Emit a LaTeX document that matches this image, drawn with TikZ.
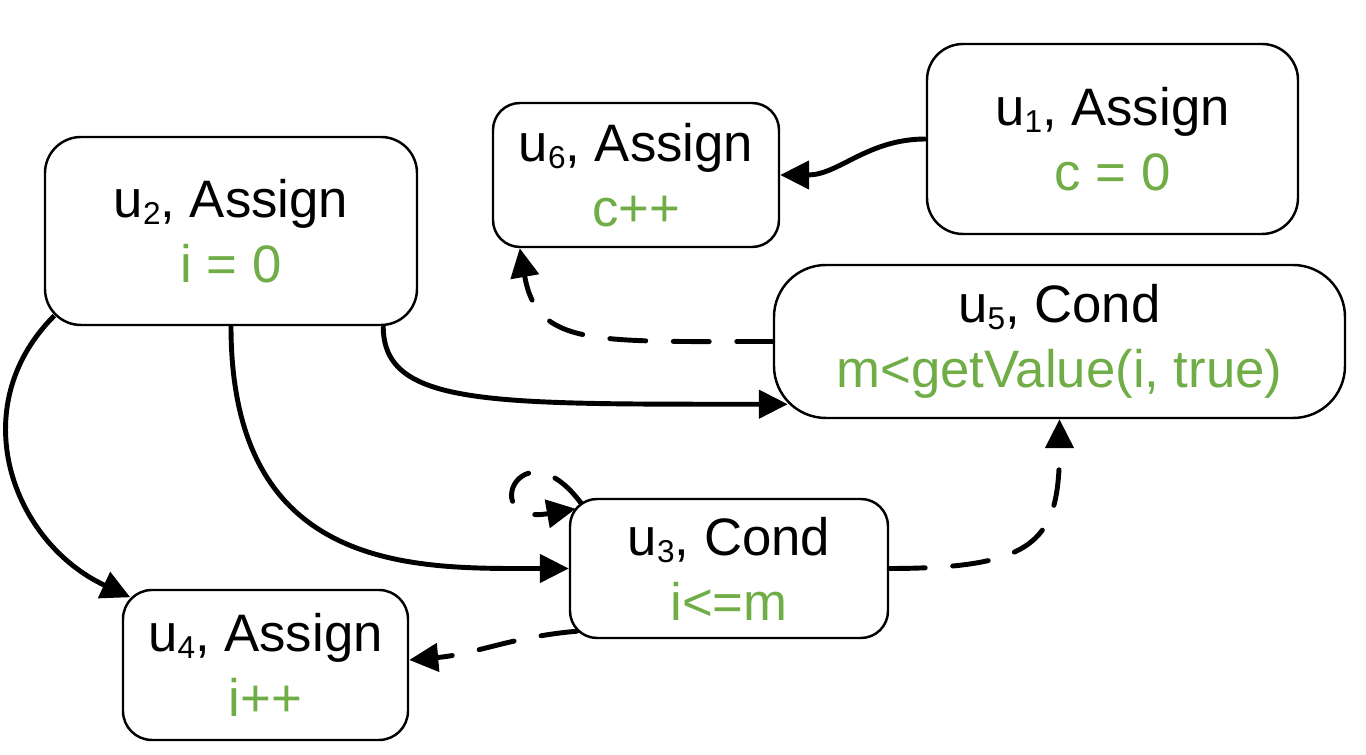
\documentclass[tikz,border=0pt]{standalone}
\usepackage{fontspec}
\setmainfont{Liberation Sans}
\usetikzlibrary{arrows.meta}

\definecolor{codegreen}{HTML}{70AD47}
\newcommand{\idx}[1]{\raisebox{-4pt}{\fontsize{18}{18}\selectfont #1}}
\newcommand{\stmt}[1]{\textcolor{codegreen}{#1}}

\begin{document}
\begin{tikzpicture}[
    >={Triangle[length=0.58cm, width=0.56cm]}, % Filled arrow heads
    % Styles
    block/.style={ % Statement node
        draw,
        rounded corners=0.54cm,
        line width=1.4pt,
        align=center,
        inner sep=0pt,
        font=\fontsize{30}{37}\selectfont
    },
    flow/.style={ % Solid edges
        ->,
        line width=2.8pt
    },
    dep/.style={ % Dashed edges
        flow,
        dash pattern=on 0.72cm off 0.55cm,
        line cap=round
    }
]
    \useasboundingbox (0,0) rectangle (27.32,15.1);

    % Statement nodes
    \node[block, minimum width=7.42cm, minimum height=3.8cm, rounded corners=0.72cm] (u1) at (22.25,12.32) {u\idx{1}, Assign\\\stmt{c = 0}};
    \node[block, minimum width=5.72cm, minimum height=2.88cm] (u6) at (12.72,11.6) {u\idx{6}, Assign\\\stmt{c++}};
    \node[block, minimum width=7.44cm, minimum height=3.76cm, rounded corners=0.72cm] (u2) at (4.62,10.48) {u\idx{2}, Assign\\\stmt{i = 0}};
    \node[block, minimum width=11.42cm, minimum height=3.06cm, rounded corners=1.04cm] (u5) at (21.19,8.27) {u\idx{5}, Cond\\\stmt{m<getValue(i, true)}};
    \node[block, minimum width=6.36cm, minimum height=2.78cm] (u3) at (14.58,3.73) {u\idx{3}, Cond\\\stmt{i<=m}};
    \node[block, minimum width=5.7cm, minimum height=3cm, rounded corners=0.58cm] (u4) at (5.31,1.8) {u\idx{4}, Assign\\\stmt{i++}};

    % Solid edges
    \draw[flow] (u1.west) to[out=180, in=0] (u6.east);
    \draw[flow] ([xshift=-0.7cm]u2.south east) to[out=-90, in=180, out distance=1.6cm, in distance=6cm] ([shift={(0.3,0.3)}]u5.south west);
    \draw[flow] (u2.south) to[out=-90, in=180, out distance=5cm, in distance=3cm] (u3.west);
    \draw[flow] ([shift={(0.21,0.21)}]u2.south west) to[out=225, in=155, out distance=2.6cm, in distance=2.6cm] ([shift={(0.17,-0.17)}]u4.north west);

    % Dashed edges
    \draw[dep] (u5.west) to[out=180, in=-80, out distance=3.6cm, in distance=2cm] ([xshift=0.56cm]u6.south west);
    \draw[dep] ([shift={(0.24,-0.1)}]u3.north west) to[out=127, in=190, out distance=2cm, in distance=2cm] ([shift={(0.14,-0.22)}]u3.north west);
    \draw[dep] (u3.east) to[out=0, in=-90, out distance=3cm, in distance=2.4cm] (u5.south);
    \draw[dep] ([shift={(0.16,0.16)}]u3.south west) to[out=185, in=5] ([yshift=0.1cm]u4.east);
\end{tikzpicture}
\end{document}
